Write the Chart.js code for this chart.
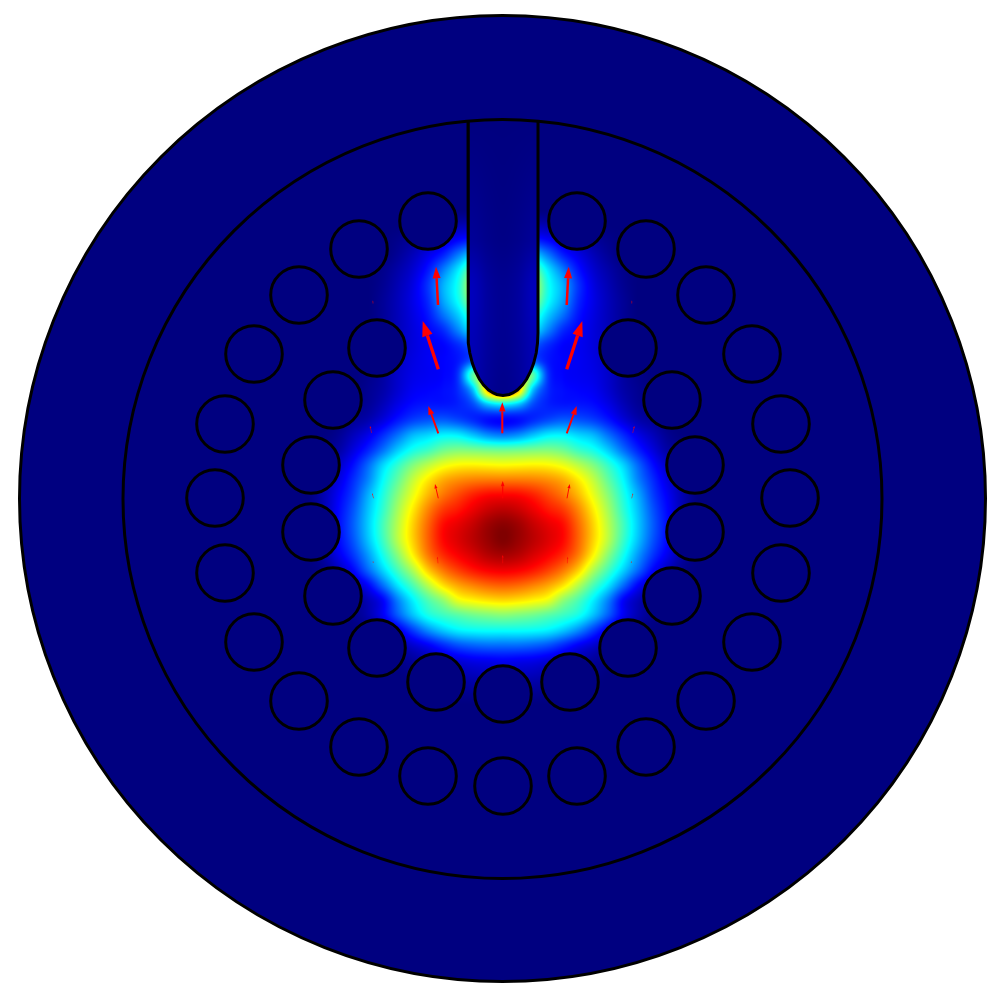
<!DOCTYPE html>
<html>
<head>
<meta charset="utf-8">
<title>Field plot</title>
<script src="https://cdn.jsdelivr.net/npm/chart.js@4/dist/chart.umd.min.js"></script>
<style>
html, body { margin: 0; padding: 0; background: #fff; }
canvas { display: block; }
</style>
</head>
<body>
<canvas id="plot" width="999" height="1003"></canvas>
<script>
// everything is in picture units, the field is mirrored about axisX
var axisX = 503;

var outerCircleX = [502.5], outerCircleY = [498.5];
var innerCircleX = [502.5], innerCircleY = [499];

var holeX = [503, 436, 570, 377, 628, 333, 672, 311, 695, 311, 695, 333, 672, 377, 628,
             503, 428, 577, 359, 646, 299, 706, 254, 752, 225, 781, 215, 790, 225, 781, 254, 752, 299, 706, 359, 646, 428, 577];
var holeY = [694, 682, 682, 648, 648, 596, 596, 532, 532, 465, 465, 400, 400, 348, 348,
             786, 776, 776, 747, 747, 701, 701, 642, 642, 573, 573, 498, 498, 424, 424, 354, 354, 295, 295, 249, 249, 221, 221];

// probe outline, down the left wall, round the tip, up the right wall
var probeX = [468, 468, 468.5, 469.8, 472.3, 475.2, 479.3, 483.6, 488.6, 493.2, 496.8, 503,
              509.2, 512.8, 517.4, 522.4, 526.7, 530.8, 533.7, 536.2, 537.5, 538, 538];
var probeY = [120, 333, 343, 353, 363, 371, 379, 385, 390, 393, 394.5, 395.5,
              394.5, 393, 390, 385, 379, 371, 363, 353, 343, 333, 120];

// arrows, tail and tip
var arrowTailX = [438, 566.7, 438.3, 566.7, 502.3, 438.3, 566.7, 371.7, 632.7, 373, 631.7, 438.3, 502.7, 567, 373.7, 631.7, 438, 502.7, 567.3, 373.3, 631.3];
var arrowTailY = [305, 305, 369.3, 369.3, 433.3, 433.3, 433.3, 433, 433, 303.5, 303.5, 498.3, 498.3, 498.3, 498.3, 498.3, 563.3, 563.3, 563.3, 563, 563];
var arrowTipX  = [436, 568.7, 422.7, 582.3, 502.3, 428.3, 576.7, 370, 634.4, 372.8, 631.9, 435, 502.7, 569.7, 372, 633, 437.3, 502.7, 567.7, 373, 631.6];
var arrowTipY  = [266.7, 266.7, 321, 321, 402.3, 406, 406, 426, 426, 300.5, 300.5, 484, 481, 484, 493.3, 493.3, 556.7, 555, 556.7, 561, 561];

// field, 0 = navy .. 1 = dark red
var fieldOffsets = [0, 15, 30, 45, 60, 75, 90, 105, 120, 135, 150, 165, 180, 195];
var fieldRowY = [210, 225, 240, 255, 270, 285, 300, 315, 330, 345, 360, 375, 390, 405, 420, 435, 450, 465, 480, 495,
                 510, 525, 540, 555, 570, 585, 600, 615, 630, 645, 660, 675, 690, 705];
var fieldValues = [
  [0, 0, 0, 0, 0, 0, 0, 0, 0, 0, 0, 0, 0, 0],
  [.05, .05, .05, .04, .03, .015, .005, 0, 0, 0, 0, 0, 0, 0],
  [.14, .14, .14, .11, .07, .05, .025, .01, 0, 0, 0, 0, 0, 0],
  [.32, .32, .32, .23, .14, .09, .05, .02, 0, 0, 0, 0, 0, 0],
  [.48, .48, .48, .34, .23, .13, .07, .035, .01, 0, 0, 0, 0, 0],
  [.56, .56, .56, .38, .28, .16, .085, .045, .015, 0, 0, 0, 0, 0],
  [.52, .52, .52, .37, .27, .15, .09, .05, .02, 0, 0, 0, 0, 0],
  [.42, .42, .42, .31, .22, .13, .085, .05, .02, 0, 0, 0, 0, 0],
  [.34, .34, .34, .24, .15, .11, .08, .05, .02, .005, 0, 0, 0, 0],
  [.2, .2, .2, .15, .11, .1, .08, .055, .025, .01, 0, 0, 0, 0],
  [.3, .3, .2, .13, .11, .1, .085, .06, .03, .01, 0, 0, 0, 0],
  [.6, .6, .45, .16, .11, .1, .09, .065, .03, .01, 0, 0, 0, 0],
  [.85, .7, .3, .15, .12, .11, .1, .07, .035, .015, 0, 0, 0, 0],
  [.33, .29, .18, .14, .13, .13, .12, .09, .05, .02, .01, 0, 0, 0],
  [.11, .12, .15, .18, .2, .19, .17, .13, .08, .04, .02, 0, 0, 0],
  [.23, .25, .3, .345, .35, .32, .29, .22, .15, .09, .05, .015, 0, 0],
  [.47, .475, .485, .49, .47, .42, .38, .31, .22, .14, .08, .03, .01, 0],
  [.62, .625, .63, .625, .6, .55, .49, .41, .32, .21, .12, .06, .02, 0],
  [.75, .75, .745, .73, .7, .64, .56, .46, .36, .24, .15, .08, .03, 0],
  [.87, .865, .84, .8, .755, .69, .6, .5, .39, .28, .17, .1, .04, 0],
  [.94, .925, .89, .85, .815, .74, .64, .53, .41, .3, .19, .11, .04, 0],
  [.99, .97, .93, .895, .86, .77, .665, .55, .43, .31, .2, .115, .05, 0],
  [1, .975, .94, .905, .865, .775, .665, .55, .42, .3, .19, .11, .04, 0],
  [.96, .945, .91, .875, .83, .75, .63, .5, .38, .26, .16, .09, .03, 0],
  [.885, .875, .85, .81, .755, .67, .54, .43, .32, .21, .11, .05, .01, 0],
  [.78, .77, .745, .71, .65, .55, .44, .34, .22, .11, .05, .01, 0, 0],
  [.66, .65, .63, .6, .51, .44, .35, .24, .11, .05, .01, 0, 0, 0],
  [.5, .49, .475, .45, .42, .38, .3, .2, .1, .04, .01, 0, 0, 0],
  [.37, .37, .365, .35, .31, .25, .17, .09, .04, .01, 0, 0, 0, 0],
  [.22, .22, .21, .19, .15, .105, .07, .035, .01, 0, 0, 0, 0, 0],
  [.105, .1, .095, .08, .065, .045, .025, .01, 0, 0, 0, 0, 0, 0],
  [.06, .055, .05, .04, .03, .02, .01, 0, 0, 0, 0, 0, 0, 0],
  [.02, .02, .02, .015, .01, 0, 0, 0, 0, 0, 0, 0, 0, 0],
  [0, 0, 0, 0, 0, 0, 0, 0, 0, 0, 0, 0, 0, 0]
];

// faint field inside the probe
var probeOffsets = [0, 15, 30, 45];
var probeRowY = [120, 240, 285, 345, 400];
var probeValues = [
  [0, 0, 0, 0],
  [.005, .01, .02, .02],
  [.015, .025, .05, .05],
  [.015, .025, .045, .045],
  [.01, .02, .04, .04]
];

var NAVY = "rgb(0,0,128)";
var jetStops = [[0, 0, 0, 128], [.11, 0, 0, 255], [.36, 0, 255, 255], [.62, 255, 255, 0], [.87, 255, 0, 0], [1, 128, 0, 0]];

function jet(v) {
  for (var i = 1; i < jetStops.length; i++) {
    if (v <= jetStops[i][0]) {
      var a = jetStops[i - 1], b = jetStops[i], t = (v - a[0]) / (b[0] - a[0]);
      return [a[1] + (b[1] - a[1]) * t, a[2] + (b[2] - a[2]) * t, a[3] + (b[3] - a[3]) * t];
    }
  }
  return jetStops[jetStops.length - 1].slice(1);
}

function cr(p0, p1, p2, p3, t) {
  return p1 + .5 * t * (p2 - p0 + t * (2 * p0 - 5 * p1 + 4 * p2 - p3 + t * (3 * (p1 - p2) + p3 - p0)));
}

function findCell(list, v) {
  var i = 0;
  while (i < list.length - 2 && list[i + 1] <= v) i++;
  return i;
}

// smooth value from a read grid, columns mirrored about the axis
function sampleGrid(rowsY, offs, vals, x, y) {
  var off = Math.abs(x - axisX);
  if (off >= offs[offs.length - 1] || y < rowsY[0] || y >= rowsY[rowsY.length - 1]) return 0;
  var r = findCell(rowsY, y), c = findCell(offs, off);
  var ty = (y - rowsY[r]) / (rowsY[r + 1] - rowsY[r]);
  var tx = (off - offs[c]) / (offs[c + 1] - offs[c]);
  var cols = [];
  for (var j = -1; j <= 2; j++) {
    var row = vals[Math.max(0, Math.min(rowsY.length - 1, r + j))];
    var k0 = Math.abs(c - 1), k3 = Math.min(offs.length - 1, c + 2);
    cols.push(cr(row[k0], row[c], row[c + 1], row[k3], tx));
  }
  return Math.max(0, Math.min(1, cr(cols[0], cols[1], cols[2], cols[3], ty)));
}

function paintGrid(chart, rowsY, offs, vals) {
  var xs = chart.scales.x, ys = chart.scales.y;
  var w = chart.width, h = chart.height;
  var off = document.createElement("canvas");
  off.width = w; off.height = h;
  var octx = off.getContext("2d");
  var img = octx.createImageData(w, h);
  for (var py = 0; py < h; py++) {
    var y = ys.getValueForPixel(py + .5);
    if (y < rowsY[0] || y >= rowsY[rowsY.length - 1]) continue;
    for (var px = 0; px < w; px++) {
      var v = sampleGrid(rowsY, offs, vals, xs.getValueForPixel(px + .5), y);
      if (v <= 0) continue;
      var c = jet(v), i = (py * w + px) * 4;
      img.data[i] = c[0]; img.data[i + 1] = c[1]; img.data[i + 2] = c[2]; img.data[i + 3] = 255;
    }
  }
  octx.putImageData(img, 0, 0);
  chart.ctx.drawImage(off, 0, 0);
}

function probePath(chart) {
  var ctx = chart.ctx;
  ctx.beginPath();
  probeX.forEach(function(x, i) {
    ctx.lineTo(chart.scales.x.getPixelForValue(x), chart.scales.y.getPixelForValue(probeY[i]));
  });
  ctx.closePath();
}

// heat field sits right on top of the big disc
var fieldPlugin = {
  id: "field",
  afterDatasetDraw: function(chart, args) {
    if (chart.data.datasets[args.index].label !== "domain") return;
    var ctx = chart.ctx;
    paintGrid(chart, fieldRowY, fieldOffsets, fieldValues);
    ctx.save();
    probePath(chart);
    ctx.fillStyle = NAVY;
    ctx.fill();
    ctx.clip();
    paintGrid(chart, probeRowY, probeOffsets, probeValues);
    ctx.restore();
  }
};

var arrowPlugin = {
  id: "arrows",
  afterDatasetsDraw: function(chart) {
    var ctx = chart.ctx, xs = chart.scales.x, ys = chart.scales.y;
    ctx.save();
    ctx.strokeStyle = "#ff0000";
    ctx.fillStyle = "#ff0000";
    arrowTailX.forEach(function(tx, i) {
      var x0 = xs.getPixelForValue(tx), y0 = ys.getPixelForValue(arrowTailY[i]);
      var x1 = xs.getPixelForValue(arrowTipX[i]), y1 = ys.getPixelForValue(arrowTipY[i]);
      var len = Math.hypot(x1 - x0, y1 - y0), ux = (x1 - x0) / len, uy = (y1 - y0) / len;
      var hl = len * .3, hw = len * .105;
      ctx.lineWidth = Math.max(.5, len * .065);
      ctx.beginPath();
      ctx.moveTo(x0, y0);
      ctx.lineTo(x1 - ux * hl, y1 - uy * hl);
      ctx.stroke();
      ctx.beginPath();
      ctx.moveTo(x1, y1);
      ctx.lineTo(x1 - ux * hl - uy * hw, y1 - uy * hl + ux * hw);
      ctx.lineTo(x1 - ux * hl + uy * hw, y1 - uy * hl - ux * hw);
      ctx.closePath();
      ctx.fill();
    });
    ctx.restore();
  }
};

function points(xs, ys) {
  return xs.map(function(x, i) { return { x: x, y: ys[i] }; });
}

new Chart(document.getElementById("plot").getContext("2d"), {
  type: "scatter",
  data: {
    datasets: [
      {
        label: "domain",
        data: points(outerCircleX, outerCircleY),
        order: 4,
        pointRadius: 483,
        pointBorderWidth: 3,
        pointBackgroundColor: NAVY,
        pointBorderColor: "#000"
      },
      {
        label: "inner boundary",
        data: points(innerCircleX, innerCircleY),
        order: 3,
        pointRadius: 379.5,
        pointBorderWidth: 3,
        pointBackgroundColor: "rgba(0,0,0,0)",
        pointBorderColor: "#000"
      },
      {
        label: "holes",
        data: points(holeX, holeY),
        order: 2,
        pointRadius: 28.3,
        pointBorderWidth: 3,
        pointBackgroundColor: NAVY,
        pointBorderColor: "#000"
      },
      {
        label: "probe",
        data: points(probeX, probeY),
        order: 1,
        showLine: true,
        fill: false,
        tension: 0,
        borderColor: "#000",
        borderWidth: 3,
        pointRadius: 0
      }
    ]
  },
  options: {
    responsive: false,
    animation: false,
    events: [],
    layout: { padding: 0, autoPadding: false },
    plugins: { legend: { display: false }, tooltip: { enabled: false } },
    scales: {
      x: { type: "linear", display: false, min: 0, max: 999 },
      y: { type: "linear", display: false, min: 0, max: 1003, reverse: true }
    }
  },
  plugins: [fieldPlugin, arrowPlugin]
});
</script>
</body>
</html>
